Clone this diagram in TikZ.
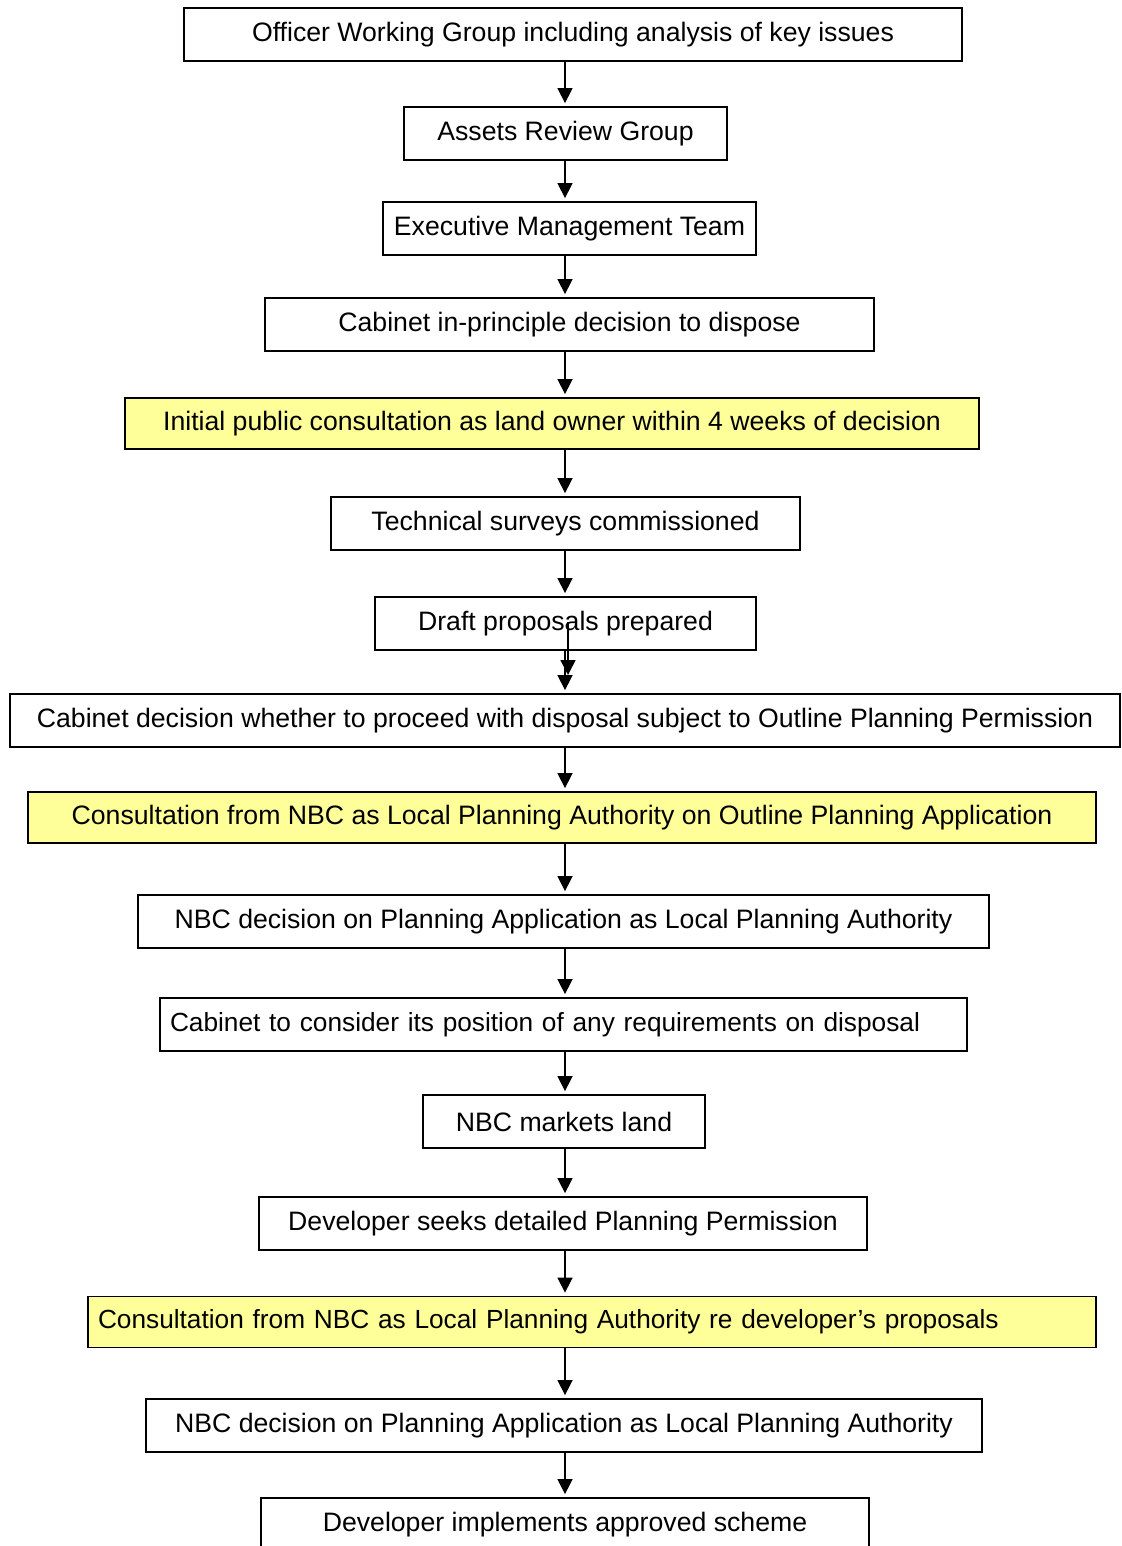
\documentclass[tikz,border=0pt]{standalone}
\usepackage{fontspec}
\setmainfont{Liberation Sans}
\usetikzlibrary{arrows.meta}
\definecolor{hl}{RGB}{255,255,153}
\begin{document}
\begin{tikzpicture}[x=1pt,y=-1pt,
  box/.style={draw=black, line width=1.8pt, inner sep=0pt, minimum height=53pt,
    font=\fontsize{26.65}{30}\selectfont},
  ybox/.style={box, fill=hl, minimum height=51pt},
  lbox/.style={font=\fontsize{26.25}{30}\selectfont, align=left},
  arr/.style={line width=1.5pt, -{Triangle[length=15pt,width=15pt]}, shorten >=3pt}]
\useasboundingbox (0,0) rectangle (1121,1546);
\clip (0,0) rectangle (1121,1546);
\coordinate (ax) at (565,0);
\node[box, minimum width=778pt] (a1) at (573,34.5) {Officer Working Group including analysis of key issues};
\node[box, minimum width=323pt] (a2) at (565.5,133.5) {Assets Review Group};
\node[box, minimum width=373pt] (a3) at (569.5,228.5) {Executive Management Team};
\node[box, minimum width=609pt] (a4) at (569.5,324.5) {Cabinet in-principle decision to dispose};
\node[ybox, minimum width=854pt] (a5) at (552,423.5) {Initial public consultation as land owner within 4 weeks of decision};
\node[box, minimum width=469pt] (a6) at (565.5,523.5) {Technical surveys commissioned};
\node[box, minimum width=381pt] (a7) at (565.5,623.5) {Draft proposals prepared};
\node[box, minimum width=1110pt] (a8) at (565,720.5) {Cabinet decision whether to proceed with disposal subject to Outline Planning Permission};
\node[ybox, minimum width=1068pt] (a9) at (562,817.5) {Consultation from NBC as Local Planning Authority on Outline Planning Application};
\node[box, minimum width=851pt] (a10) at (563.5,921.5) {NBC decision on Planning Application as Local Planning Authority};
\node[box, lbox, minimum width=807pt, text width=787pt] (a11) at (563.5,1024.5) {Cabinet to consider its position of any requirements on disposal};
\node[box, minimum width=282pt] (a12) at (564,1121.5) {NBC markets land};
\node[box, minimum width=608pt] (a13) at (563,1223.5) {Developer seeks detailed Planning Permission};
\node[ybox, lbox, minimum width=1008pt, text width=988pt] (a14) at (592,1322) {Consultation from NBC as Local Planning Authority re developer’s proposals};
\node[box, minimum width=836pt] (a15) at (564,1425.5) {NBC decision on Planning Application as Local Planning Authority};
\node[box, minimum width=608pt] (a16) at (565,1524.5) {Developer implements approved scheme};
\foreach \p/\q in {a1/a2,a2/a3,a3/a4,a4/a5,a5/a6,a6/a7,a7/a8,a8/a9,a9/a10,a10/a11,a11/a12,a12/a13,a13/a14,a14/a15,a15/a16}
  \draw[arr] (\p.south -| ax) -- (\q.north -| ax);
\coordinate (d1) at (568,622);
\coordinate (d2) at (568,678);
\draw[arr] (d1) -- (d2);
\end{tikzpicture}
\end{document}
